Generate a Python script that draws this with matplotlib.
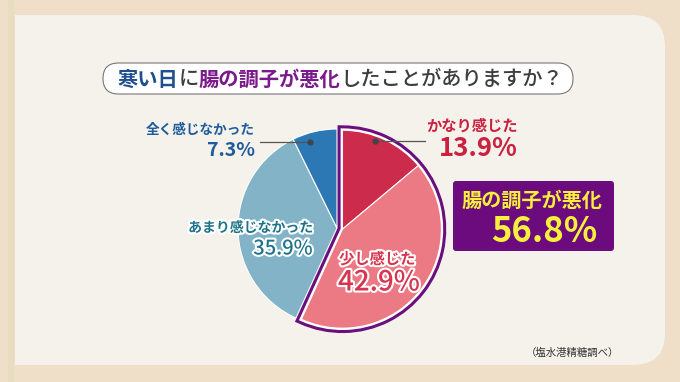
import matplotlib
matplotlib.use("Agg")
import matplotlib.pyplot as plt
from matplotlib.patches import FancyBboxPatch, Rectangle, Wedge
import matplotlib.patheffects as pe

plt.rcParams['font.family'] = ['Noto Sans CJK JP', 'DejaVu Sans']

# data
labels = ['かなり感じた', '少し感じた', 'あまり感じなかった', '全く感じなかった']
values = [13.9, 42.9, 35.9, 7.3]
colors = ['#cd2b4b', '#ec7a85', '#82b3c6', '#2b78b4']
highlight_label = '腸の調子が悪化'
highlight_value = 56.8
footnote = '（塩水港精糖調べ）'
title_parts = [('寒い日', '#1f4f8f', 'bold'), ('に', '#3d3d3d', 'medium'),
               ('腸の調子が悪化', '#7b1a8b', 'bold'),
               ('したことがありますか？', '#3d3d3d', 'medium')]

W, H = 680, 382
fig = plt.figure(figsize=(W / 100, H / 100), dpi=100)
fig.patch.set_facecolor('#efdfc8')
ax = fig.add_axes([0, 0, 1, 1])
ax.set_xlim(0, W)
ax.set_ylim(0, H)
ax.axis('off')

def Y(py):
    return H - py

# background panel
ax.add_patch(Rectangle((8, 0), 6, H, fc='#e8dcc1', ec='none', zorder=0))
panel_c = '#f4f2ea'
ax.add_patch(FancyBboxPatch((15, Y(365)), 650, 350,
                            boxstyle='round,pad=0,rounding_size=32',
                            fc=panel_c, ec='none', zorder=0))
ax.add_patch(Rectangle((15, Y(365)), 300, 350, fc=panel_c, ec='none', zorder=0))

# title pill
ax.add_patch(FancyBboxPatch((103, Y(94)), 470, 31,
                            boxstyle='round,pad=0,rounding_size=15.5',
                            fc='white', ec='#777777', lw=0.8, zorder=1))
fig.canvas.draw()
renderer = fig.canvas.get_renderer()
x = 118
for txt, col, wt in title_parts:
    t = ax.text(x, Y(79), txt, color=col, fontsize=14.6, fontweight=wt,
                ha='left', va='center', zorder=2)
    x += t.get_window_extent(renderer).width

# pie
cx, cy, r = 337, Y(228), 99
wedges, _ = ax.pie(values, colors=colors, startangle=90, counterclock=False,
                   center=(cx, cy), radius=r, frame=True,
                   wedgeprops=dict(edgecolor='white', linewidth=0.8))
ax.set_xlim(0, W)
ax.set_ylim(0, H)
ax.axis('off')
ax.set_aspect('auto')
dx, dy = 5.4, -1.2
for w in wedges:
    w.set_zorder(2)
for w in wedges[:2]:
    w.set_center((cx + dx, cy + dy))
    w.set_zorder(5)
t1 = wedges[1].theta1
t2 = wedges[0].theta2
ax.add_patch(Wedge((cx + dx, cy + dy), r, t1, t2, fc='none', ec='#6b0f7e',
                   lw=7, joinstyle='miter', zorder=3))
ax.add_patch(Wedge((cx + dx, cy + dy), r, t1, t2, fc='none', ec='white',
                   lw=2.6, joinstyle='miter', zorder=4))

# leader lines
ax.plot([375, 425], [Y(141), Y(141)], color='#555555', lw=0.9, zorder=6)
ax.plot([375], [Y(141)], 'o', color='#444444', ms=3.5, zorder=6)
ax.plot([260, 310], [Y(142), Y(142)], color='#555555', lw=0.9, zorder=6)
ax.plot([310], [Y(142)], 'o', color='#444444', ms=3.5, zorder=6)

stroke = [pe.withStroke(linewidth=3, foreground='white')]

ax.text(518, Y(126), labels[0], color='#c9213f', fontsize=11, fontweight='bold',
        ha='right', va='center', zorder=7)
ax.text(518, Y(148), f'{values[0]}%', color='#c9213f', fontsize=18.5,
        fontweight='bold', ha='right', va='center', zorder=7)

ax.text(255, Y(130), labels[3], color='#1f5c9d', fontsize=9.8, fontweight='bold',
        ha='right', va='center', zorder=7)
ax.text(255, Y(150), f'{values[3]}%', color='#1f5c9d', fontsize=14,
        fontweight='bold', ha='right', va='center', zorder=7)

ax.text(313, Y(228), labels[2], color='#1d7389', fontsize=10, fontweight='bold',
        ha='right', va='center', zorder=7, path_effects=stroke)
ax.text(313, Y(249), f'{values[2]}%', color='#1d7389', fontsize=14.5,
        fontweight='medium', ha='right', va='center', zorder=7, path_effects=stroke)

ax.text(339, Y(259), labels[1], color='#d6354f', fontsize=11, fontweight='bold',
        ha='left', va='center', zorder=7, path_effects=stroke)
ax.text(338, Y(282), f'{values[1]}%', color='#d6354f', fontsize=20,
        fontweight='medium', ha='left', va='center', zorder=7, path_effects=stroke)

# highlight box
ax.add_patch(FancyBboxPatch((453, Y(251)), 161, 70,
                            boxstyle='round,pad=0,rounding_size=3',
                            fc='#6b0b7e', ec='none', zorder=6))
ax.text(462, Y(200), highlight_label, color='#f7ef3c', fontsize=14.5,
        fontweight='bold', ha='left', va='center', zorder=7)
ax.text(597, Y(231), f'{highlight_value}%', color='#f7ef3c', fontsize=25,
        fontweight='bold', ha='right', va='center', zorder=7)

ax.text(572, Y(353), footnote, color='#333333', fontsize=7.5, ha='center',
        va='center', zorder=7)

fig.savefig('out.png', dpi=100, facecolor=fig.get_facecolor())
